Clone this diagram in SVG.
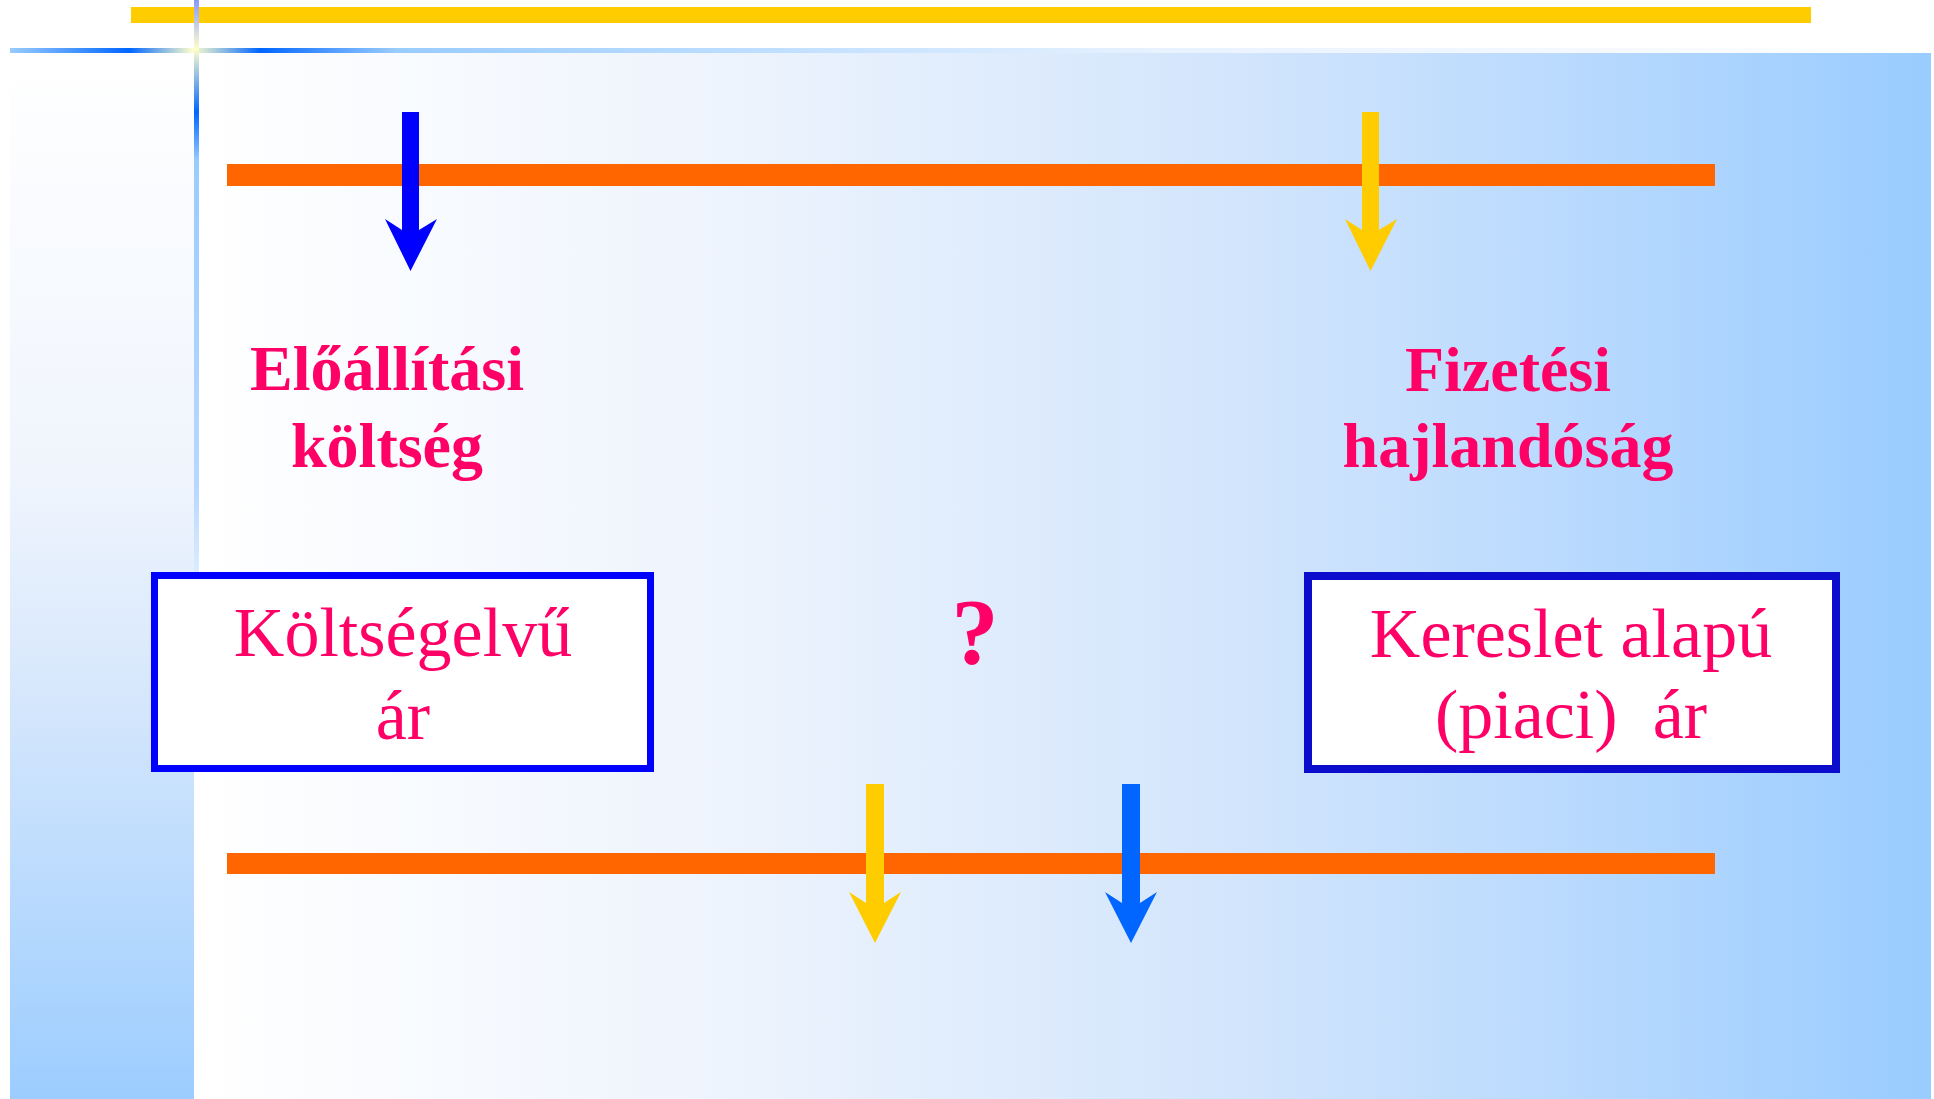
<svg xmlns="http://www.w3.org/2000/svg" width="1934" height="1099" viewBox="0 0 1934 1099">
<defs>
<linearGradient id="mainBg" x1="0" y1="0" x2="1" y2="0">
<stop offset="0" stop-color="#ffffff"/>
<stop offset="0.3" stop-color="#eef4fd"/>
<stop offset="0.6" stop-color="#d2e5fc"/>
<stop offset="0.8" stop-color="#b8d9fe"/>
<stop offset="1" stop-color="#99ccff"/>
</linearGradient>
<linearGradient id="leftBg" x1="0" y1="0" x2="0" y2="1">
<stop offset="0" stop-color="#ffffff"/>
<stop offset="0.4" stop-color="#f0f5fd"/>
<stop offset="0.6" stop-color="#d8e8fc"/>
<stop offset="1" stop-color="#9ccdff"/>
</linearGradient>
<linearGradient id="hLine" gradientUnits="userSpaceOnUse" x1="10" y1="0" x2="1934" y2="0">
<stop offset="0" stop-color="#99ccff"/>
<stop offset="0.062" stop-color="#0066ff"/>
<stop offset="0.095" stop-color="#ffffcc"/>
<stop offset="0.13" stop-color="#0066ff"/>
<stop offset="0.2" stop-color="#99ccff"/>
<stop offset="0.6" stop-color="#e8f2ff"/>
<stop offset="1" stop-color="#ffffff"/>
</linearGradient>
<linearGradient id="vLine" gradientUnits="userSpaceOnUse" x1="0" y1="0" x2="0" y2="700">
<stop offset="0" stop-color="#8899ff"/>
<stop offset="0.07" stop-color="#ffffcc"/>
<stop offset="0.16" stop-color="#0066ff"/>
<stop offset="0.23" stop-color="#99ccff"/>
<stop offset="0.7" stop-color="#b8d8ff"/>
<stop offset="1" stop-color="#d6e8fc" stop-opacity="0"/>
</linearGradient>
<style>
.lbl{font-family:"Liberation Serif","Times New Roman",serif;font-weight:bold;font-size:64px;fill:#ff0066;text-anchor:middle}
.box-t{font-family:"Liberation Serif","Times New Roman",serif;font-size:70px;fill:#ff0066;text-anchor:middle}
.orange{fill:#ff6600}
</style>
</defs>
<rect x="0" y="0" width="1934" height="1099" fill="#ffffff"/>
<rect x="199" y="53" width="1732" height="1046" fill="url(#mainBg)"/>
<rect x="10" y="53" width="184" height="1046" fill="url(#leftBg)"/>
<rect x="131" y="7" width="1680" height="16" fill="#ffcc00"/>
<rect x="10" y="48" width="1924" height="5" fill="url(#hLine)"/>
<rect x="194" y="0" width="5" height="700" fill="url(#vLine)"/>

<g id="axis-top"><rect class="orange" x="227" y="164" width="1488" height="22"/></g>
<g id="axis-bottom"><rect class="orange" x="227" y="853" width="1488" height="21"/></g>

<g id="connectors">
<polygon fill="#0000ff" points="402,112 419,112 419,230 437,219 410.5,271 385,219 402,230"/>
<polygon fill="#ffcc00" points="1362,112 1379,112 1379,230 1397,219 1370.5,271 1345,219 1362,230"/>
<polygon fill="#ffcc00" points="866,784 884,784 884,903 901,892 875,943 849,892 866,903"/>
<polygon fill="#0066ff" points="1122,784 1140,784 1140,903 1157,892 1131,943 1105,892 1122,903"/>
</g>

<g id="label-eloallitasi">
<text class="lbl" x="387" y="390">Előállítási</text>
<text class="lbl" x="387" y="467">költség</text>
</g>
<g id="label-fizetesi">
<text class="lbl" x="1508" y="391">Fizetési</text>
<text class="lbl" x="1508" y="467">hajlandóság</text>
</g>

<g id="box-koltsegelvu">
<rect x="154.5" y="575.5" width="496" height="193" fill="#ffffff" stroke="#0000ff" stroke-width="7"/>
<text class="box-t" x="403" y="656">Költségelvű</text>
<text class="box-t" x="403" y="739">ár</text>
</g>

<g id="question">
<text x="975" y="663" font-family="Liberation Serif, serif" font-weight="bold" font-size="94" fill="#ff0066" text-anchor="middle">?</text>
</g>

<g id="box-kereslet">
<rect x="1308" y="576" width="528" height="193" fill="#ffffff" stroke="#0c0ccc" stroke-width="8"/>
<text class="box-t" x="1571" y="657">Kereslet alapú</text>
<text class="box-t" x="1571" y="738" xml:space="preserve">(piaci)  ár</text>
</g>
</svg>
